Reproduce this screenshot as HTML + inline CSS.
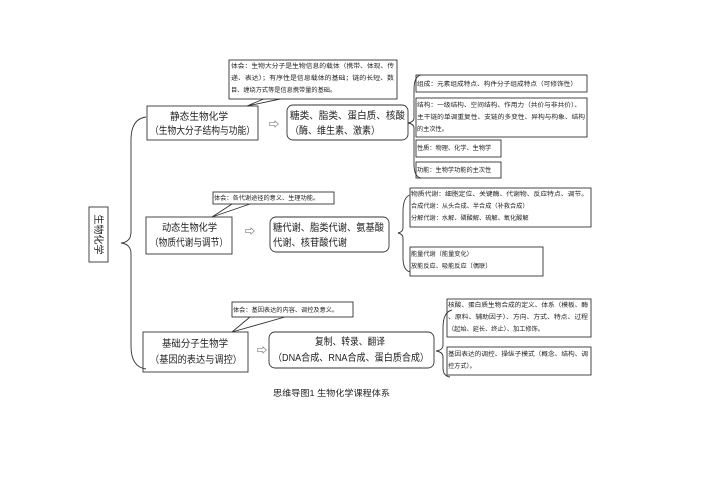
<!DOCTYPE html>
<html><head><meta charset="utf-8"><style>
body{margin:0;background:#fff}
svg{display:block}
text{font-family:"Liberation Sans","Noto Sans CJK SC",sans-serif;fill:#222}
.s{font-size:6.2px}
.m{font-size:10px}
</style></head><body>
<svg width="707" height="500" viewBox="0 0 707 500" xmlns="http://www.w3.org/2000/svg">
<g fill="none" stroke="#333" stroke-width="0.9">
<rect x="89" y="207" width="19" height="55" fill="#fff"/>
<path d="M146,117 Q131,119 131,140 L131,232 Q131,242 121,243 Q131,244 131,254 L131,346 Q131,367 146,369"/>
<rect x="147" y="106" width="111" height="34"/>
<rect x="287" y="105" width="121" height="35" rx="6"/>
<path d="M247,106 L266,98 M247,106 L285,98"/>
<rect x="229" y="60" width="168" height="39" fill="#fff"/>
<path d="M421,75 Q414,76 414,90 L414,118 Q414,122 408,123 Q414,124 414,128 L414,164 Q414,177 421,178"/>
<rect x="416" y="75" width="171" height="17"/>
<rect x="416" y="98" width="171" height="39"/>
<rect x="416" y="140" width="85" height="17"/>
<rect x="416" y="162" width="85" height="16"/>
<rect x="146" y="217" width="86" height="37"/>
<rect x="270" y="217" width="119" height="35" rx="6"/>
<path d="M212,217 L232,204 M212,217 L250,204"/>
<rect x="213" y="192" width="121" height="12" fill="#fff"/>
<path d="M410,195 Q403,197 403,212 L403,228 Q403,232 398,233 Q403,234 403,238 L403,258 Q403,270 410,272"/>
<rect x="410" y="188" width="181" height="39"/>
<rect x="410" y="247" width="133" height="29"/>
<rect x="143" y="332" width="105" height="40"/>
<rect x="269" y="332" width="165" height="36" rx="6"/>
<path d="M232,332 L250,317 M232,332 L285,317"/>
<rect x="232" y="302" width="121" height="15" fill="#fff"/>
<path d="M452,310 Q443,312 443,328 L443,345 Q443,350 436,351 Q443,352 443,357 L443,368 Q443,376 450,377"/>
<rect x="447" y="299" width="144" height="38"/>
<rect x="447" y="347" width="144" height="28"/>
</g>
<text class="m" transform="translate(95,234.5) rotate(90)" text-anchor="middle">生物化学</text>

<text class="m" x="170" y="120" textLength="58" lengthAdjust="spacingAndGlyphs">静态生物化学</text>
<text class="m" x="150" y="134" textLength="105" lengthAdjust="spacingAndGlyphs">（生物大分子结构与功能）</text>
<text class="m" x="274" y="128" text-anchor="middle">⇨</text>
<text class="m" x="290" y="119" textLength="115" lengthAdjust="spacingAndGlyphs">糖类、脂类、蛋白质、核酸</text>
<text class="m" x="290" y="134" textLength="90" lengthAdjust="spacingAndGlyphs">（酶、维生素、激素）</text>
<text class="s" x="231" y="68" textLength="163" lengthAdjust="spacingAndGlyphs">体会：生物大分子是生物信息的载体（携带、体现、传</text>
<text class="s" x="231" y="80" textLength="163" lengthAdjust="spacingAndGlyphs">递、表达）；有序性是信息载体的基础；链的长短、数</text>
<text class="s" x="231" y="92">目、缠绕方式等是信息携带量的基础。</text>
<text class="s" x="417" y="86" textLength="160" lengthAdjust="spacingAndGlyphs">组成：元素组成特点、构件分子组成特点（可修饰性）</text>
<text class="s" x="417" y="107" textLength="164" lengthAdjust="spacingAndGlyphs">结构：一级结构、空间结构、作用力（共价与非共价）、</text>
<text class="s" x="417" y="119" textLength="168" lengthAdjust="spacingAndGlyphs">主干链的单调重复性、支链的多变性、异构与构象、结构</text>
<text class="s" x="417" y="131">的主次性。</text>
<text class="s" x="417" y="150">性质：物理、化学、生物学</text>
<text class="s" x="417" y="172">功能：生物学功能的主次性</text>

<text class="m" x="162" y="231" textLength="55" lengthAdjust="spacingAndGlyphs">动态生物化学</text>
<text class="m" x="150" y="246" textLength="78" lengthAdjust="spacingAndGlyphs">（物质代谢与调节）</text>
<text class="m" x="250" y="235" text-anchor="middle">⇨</text>
<text class="m" x="273" y="231" textLength="111" lengthAdjust="spacingAndGlyphs">糖代谢、脂类代谢、氨基酸</text>
<text class="m" x="273" y="246" textLength="74" lengthAdjust="spacingAndGlyphs">代谢、核苷酸代谢</text>
<text class="s" x="214" y="200">体会：各代谢途径的意义、生理功能。</text>
<text class="s" x="411" y="196" textLength="177" lengthAdjust="spacingAndGlyphs">物质代谢：细胞定位、关键酶、代谢物、反应特点、调节。</text>
<text class="s" x="411" y="208">合成代谢：从头合成、半合成（补救合成）</text>
<text class="s" x="411" y="220">分解代谢：水解、磷酸解、硫解、氧化酸解</text>
<text class="s" x="411" y="256">能量代谢（能量变化）</text>
<text class="s" x="411" y="268">放能反应、吸能反应（偶联）</text>

<text class="m" x="162" y="347" textLength="66" lengthAdjust="spacingAndGlyphs">基础分子生物学</text>
<text class="m" x="150" y="363" textLength="92" lengthAdjust="spacingAndGlyphs">（基因的表达与调控）</text>
<text class="m" x="262" y="354" text-anchor="middle">⇨</text>
<text class="m" x="315" y="345" textLength="70" lengthAdjust="spacingAndGlyphs">复制、转录、翻译</text>
<text class="m" x="273" y="361" textLength="156" lengthAdjust="spacingAndGlyphs">（DNA合成、RNA合成、蛋白质合成）</text>
<text class="s" x="233" y="312">体会：基因表达的内容、调控及意义。</text>
<text class="s" x="448" y="307" textLength="140" lengthAdjust="spacingAndGlyphs">核酸、蛋白质生物合成的定义、体系（模板、酶</text>
<text class="s" x="448" y="319" textLength="140" lengthAdjust="spacingAndGlyphs">、原料、辅助因子）、方向、方式、特点、过程</text>
<text class="s" x="448" y="331">（起始、延长、终止）、加工修饰。</text>
<text class="s" x="448" y="356" textLength="140" lengthAdjust="spacingAndGlyphs">基因表达的调控、操纵子模式（概念、结构、调</text>
<text class="s" x="448" y="368">控方式）。</text>

<text x="273" y="396" textLength="117" lengthAdjust="spacingAndGlyphs" style="font-size:8.5px">思维导图1  生物化学课程体系</text>
</svg>
</body></html>
